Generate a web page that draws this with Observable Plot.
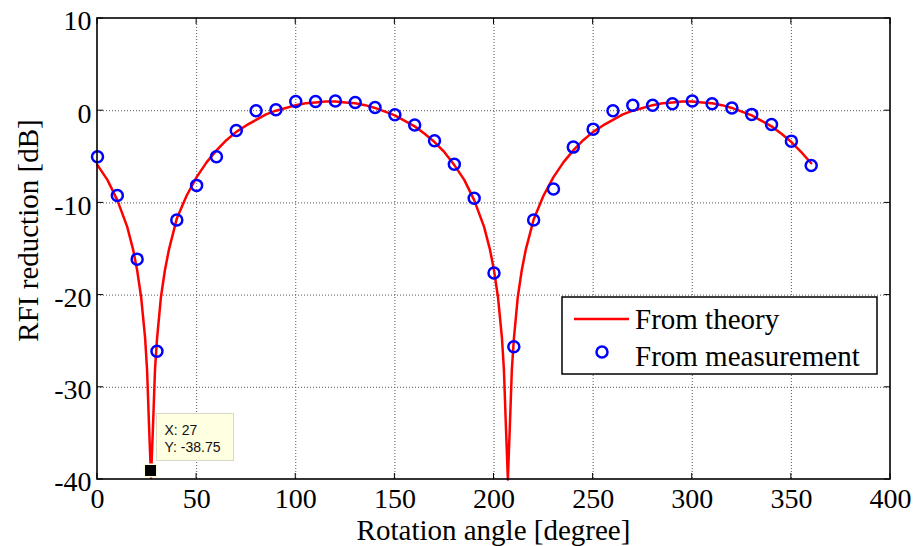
<!DOCTYPE html>
<html><head><meta charset="utf-8">
<script src="https://cdn.jsdelivr.net/npm/d3@7"></script>
<script src="https://cdn.jsdelivr.net/npm/@observablehq/plot@0.6"></script>
<style>body{margin:0;background:#fff;} svg text{font-family:"Liberation Serif","Times New Roman",Times,"DejaVu Serif",serif !important;} svg text.tipText{font-family:"Liberation Sans",Arial,"DejaVu Sans",sans-serif !important;}</style>
</head><body><div id="chart"></div>
<script>
const xTicks = [0, 50, 100, 150, 200, 250, 300, 350, 400];
const yTicks = [-40, -30, -20, -10, 0, 10];
const xLabel = "Rotation angle [degree]";
const yLabel = "RFI reduction [dB]";
const legendLabels = ["From theory", "From measurement"];

const measAngle = [0,10,20,30,40,50,60,70,80,90,100,110,120,130,140,150,160,170,180,190,200,210,220,230,240,250,260,270,280,290,300,310,320,330,340,350,360];
const measValue = [-5.0,-9.2,-16.1,-26.1,-11.85,-8.1,-5.0,-2.15,0.0,0.1,1.0,1.0,1.05,0.9,0.35,-0.45,-1.55,-3.25,-5.8,-9.5,-17.6,-25.6,-11.85,-8.5,-3.95,-2.0,0.0,0.6,0.6,0.75,1.05,0.75,0.3,-0.4,-1.5,-3.3,-5.95];

const theoryAngle = [0,5,10,15,18,20,22,24,25,26,27,28,29,30,32,34,36,40,45,50,55,60,65,70,75,80,85,90,95,100,105,110,115,120,125,130,135,140,145,150,155,160,165,170,175,180,185,190,195,198,200,202,204,205,206,207,208,209,210,212,214,216,220,225,230,235,240,245,250,255,260,265,270,275,280,285,290,295,300,305,310,315,320,325,330,335,340,345,350,355,360];
const theoryValue = [-5.9,-7.5,-9.7,-12.6,-15.1,-17.3,-20.2,-24.6,-28.1,-34.2,-39.8,-34.2,-28.1,-24.8,-20.2,-17.3,-15.1,-11.7,-9.2,-7.2,-5.6,-4.3,-3.2,-2.3,-1.6,-1.0,-0.4,0.0,0.3,0.6,0.8,0.9,1.0,1.0,0.9,0.8,0.6,0.3,-0.1,-0.5,-1.1,-1.7,-2.5,-3.4,-4.5,-5.9,-7.5,-9.7,-12.6,-15.1,-17.3,-20.2,-24.6,-28.1,-34.2,-40.0,-34.2,-28.1,-24.8,-20.2,-17.3,-15.1,-11.8,-9.2,-7.2,-5.6,-4.3,-3.2,-2.3,-1.6,-1.0,-0.4,0.0,0.3,0.6,0.8,0.9,1.0,1.0,0.9,0.8,0.6,0.3,-0.1,-0.5,-1.1,-1.7,-2.5,-3.4,-4.5,-5.7];

const tipX = [27];
const tipY = [-38.75];
const tipLines = ["X: 27", "Y: -38.75"];

const theory = theoryAngle.map((a, i) => ({a, v: theoryValue[i]}));
const meas = measAngle.map((a, i) => ({a, v: measValue[i]}));

const serif = "Liberation Serif, Times New Roman, DejaVu Serif, serif";

function frameAndTicks(index, scales, values, dims) {
  const {x, y} = scales;
  const L = dims.marginLeft, R = dims.width - dims.marginRight;
  const T = dims.marginTop, B = dims.height - dims.marginBottom;
  const g = d3.create("svg:g");
  const tl = 6;
  for (const t of xTicks) {
    const px = x(t);
    g.append("line").attr("x1", px).attr("x2", px).attr("y1", B).attr("y2", B - tl).attr("stroke", "#000").attr("stroke-width", 1);
    g.append("line").attr("x1", px).attr("x2", px).attr("y1", T).attr("y2", T + tl).attr("stroke", "#000").attr("stroke-width", 1);
  }
  for (const t of yTicks) {
    const py = y(t);
    g.append("line").attr("x1", L).attr("x2", L + tl).attr("y1", py).attr("y2", py).attr("stroke", "#000").attr("stroke-width", 1);
    g.append("line").attr("x1", R).attr("x2", R - tl).attr("y1", py).attr("y2", py).attr("stroke", "#000").attr("stroke-width", 1);
  }
  g.append("rect").attr("x", L).attr("y", T).attr("width", R - L).attr("height", B - T)
    .attr("fill", "none").attr("stroke", "#000").attr("stroke-width", 1.6);
  g.append("text").attr("x", (L + R) / 2).attr("y", dims.height - 6)
    .attr("text-anchor", "middle").attr("font-size", 29).attr("fill", "#000").text(xLabel);
  g.append("text").attr("transform", `translate(38,${(T + B) / 2 - 18}) rotate(-90)`)
    .attr("text-anchor", "middle").attr("font-size", 29).attr("fill", "#000").text(yLabel);
  return g.node();
}

function legendAndTip(index, scales, values, dims) {
  const {x, y} = scales;
  const R = dims.width - dims.marginRight;
  const g = d3.create("svg:g").attr("text-anchor", "start");
  const bw = 315, bh = 77;
  const bx = R - 13 - bw, by = 297;
  g.append("rect").attr("x", bx).attr("y", by).attr("width", bw).attr("height", bh)
    .attr("fill", "#fff").attr("stroke", "#000").attr("stroke-width", 1.5);
  g.append("line").attr("x1", bx + 12).attr("x2", bx + 67).attr("y1", by + 22).attr("y2", by + 22)
    .attr("stroke", "#ff0000").attr("stroke-width", 2.5);
  g.append("circle").attr("cx", bx + 40).attr("cy", by + 55).attr("r", 5.5)
    .attr("fill", "none").attr("stroke", "#0000ff").attr("stroke-width", 2.5);
  g.append("text").attr("text-anchor", "start").attr("x", bx + 73).attr("y", by + 32).attr("font-size", 29).attr("fill", "#000").text(legendLabels[0]);
  g.append("text").attr("text-anchor", "start").attr("x", bx + 73).attr("y", by + 69).attr("font-size", 29).attr("fill", "#000").text(legendLabels[1]);
  const sx = x(tipX[0]), sy = y(tipY[0]);
  g.append("rect").attr("x", sx + 6).attr("y", sy - 54).attr("width", 77).attr("height", 47)
    .attr("fill", "#ffffe1").attr("stroke", "#d8d8c8").attr("stroke-width", 1);
  tipLines.forEach((t, i) => {
    g.append("text").attr("class", "tipText").attr("text-anchor", "start").attr("x", sx + 14).attr("y", sy - 32 + i * 17)
      .attr("font-size", 14).attr("fill", "#111").text(t);
  });
  g.append("rect").attr("x", sx - 7).attr("y", sy - 4).attr("width", 14).attr("height", 14).attr("fill", "#ffffe1");
  g.append("rect").attr("x", sx - 5.5).attr("y", sy - 2.5).attr("width", 11).attr("height", 11).attr("fill", "#000");
  return g.node();
}

const chart = Plot.plot({
  width: 917,
  height: 546,
  marginLeft: 97,
  marginRight: 27,
  marginTop: 18,
  marginBottom: 67,
  x: {domain: [0, 400]},
  y: {domain: [-40, 10]},
  style: {fontSize: "28px", background: "#fff", color: "#000", overflow: "visible"},
  marks: [
    Plot.gridX(xTicks.slice(1, -1), {stroke: "#555", strokeOpacity: 1, strokeWidth: 1, strokeDasharray: "1,2"}),
    Plot.gridY(yTicks.slice(1, -1), {stroke: "#555", strokeOpacity: 1, strokeWidth: 1, strokeDasharray: "1,2"}),
    Plot.axisX(xTicks, {tickSize: 0, tickPadding: 9, label: null, fontSize: 28, tickFormat: d => String(d)}),
    Plot.axisY(yTicks, {tickSize: 0, tickPadding: 6, label: null, fontSize: 28, dy: 3, tickFormat: d => String(d)}),
    Plot.line(theory, {x: "a", y: "v", stroke: "#ff0000", strokeWidth: 2.5}),
    Plot.dot(meas, {x: "a", y: "v", r: 5.5, stroke: "#0000ff", strokeWidth: 2.5, fill: "none"}),
    frameAndTicks,
    legendAndTip
  ]
});
document.getElementById("chart").appendChild(chart);
</script>
</body></html>
